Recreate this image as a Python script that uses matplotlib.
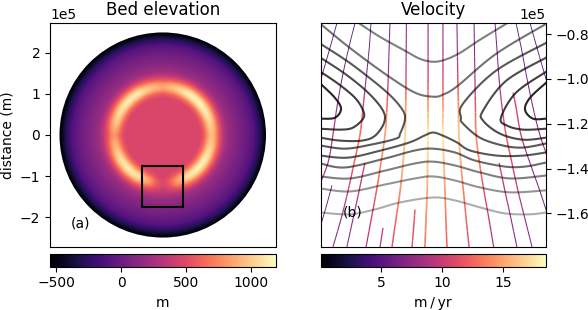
import numpy as np
import matplotlib
matplotlib.use("Agg")
import matplotlib.pyplot as plt
from matplotlib.collections import LineCollection
from matplotlib.patches import Circle, Rectangle

# Bed elevation: radial profile (1e5 m, m)
bed_radius = [0, 0.8, 1.4, 1.6, 1.8, 2.0, 2.2, 2.35, 2.45, 2.5]
bed_base = [470, 470, 320, 190, 90, 10, -100, -300, -470, -550]

# Ridge around the ice cap: crest height per direction (deg, m) and cross profile
ridge_angle = [0, 15, 30, 45, 60, 75, 90, 105, 120, 135, 150, 165, 180, 195, 210, 225,
               240, 255, 262, 270, 278, 285, 300, 315, 330, 345, 360]
ridge_crest = [950, 1050, 1150, 1180, 1150, 1000, 880, 980, 1130, 1150, 1100, 1000, 800, 950, 1100, 1150,
               1100, 800, 600, 480, 600, 800, 1100, 1170, 1150, 1050, 950]
ridge_radius = [0.8, 0.9, 1.0, 1.1, 1.17, 1.25, 1.35, 1.45, 1.55]
ridge_weight = [0, 0.05, 0.35, 0.85, 1, 0.85, 0.4, 0.1, 0]

# Zoom box, 1e5 m
box_x = [-0.5, 0.5]
box_y = [-1.75, -0.75]

# Velocity panel streamlines: x, y (1e5 m) and speed (m/yr) at each point
stream_lines = [
    ([-.427, -.462, -.498], [-.75, -.875, -1.0], [4.5, 5, 5.5]),
    ([-.347, -.378, -.405, -.427, -.445, -.467, -.516], [-.75, -.875, -1.0, -1.125, -1.25, -1.375, -1.5], [4.5, 5, 6.5, 8, 9.5, 8.5, 7.5]),
    ([-.276, -.285, -.298, -.311, -.325, -.351, -.378, -.409, -.445], [-.75, -.875, -1.0, -1.125, -1.25, -1.375, -1.5, -1.625, -1.75], [5, 5.5, 7, 11, 13, 12.5, 10, 8, 6]),
    ([-.192, -.196, -.200, -.205, -.214, -.232, -.252, -.275, -.298], [-.75, -.875, -1.0, -1.125, -1.25, -1.375, -1.5, -1.625, -1.75], [6.5, 7, 8.5, 13, 15, 14, 12, 10, 8.5]),
    ([-.119, -.120, -.121, -.122, -.125, -.134, -.147, -.165, -.183], [-.75, -.875, -1.0, -1.125, -1.25, -1.375, -1.5, -1.625, -1.75], [7, 8, 11, 15, 17, 15.5, 14, 12.5, 11]),
    ([-.023, -.023, -.023, -.023, -.023, -.025, -.027, -.032, -.037], [-.75, -.875, -1.0, -1.125, -1.25, -1.375, -1.5, -1.625, -1.75], [8, 9, 11, 15, 18, 16.5, 15, 14, 13]),
    ([.043, .043, .043, .043, .043, .047, .052, .056, .061], [-.75, -.875, -1.0, -1.125, -1.25, -1.375, -1.5, -1.625, -1.75], [7.5, 8.5, 11, 15, 18, 16, 14.5, 13, 12]),
    ([.105, .107, .109, .112, .114, .122, .134, .146, .159], [-.75, -.875, -1.0, -1.125, -1.25, -1.375, -1.5, -1.625, -1.75], [7, 8, 11, 14.5, 16.5, 15, 13.5, 12.5, 11]),
    ([.181, .183, .185, .187, .190, .205, .225, .247, .268], [-.75, -.875, -1.0, -1.125, -1.25, -1.375, -1.5, -1.625, -1.75], [6.5, 7, 8, 12, 14, 13.5, 11.5, 10, 8]),
    ([.274, .283, .292, .305, .323, .349, .376, .407, .438], [-.75, -.875, -1.0, -1.125, -1.25, -1.375, -1.5, -1.625, -1.75], [6, 6.5, 7.5, 10.5, 12, 11.5, 9, 7.5, 6]),
    ([.367, .393, .416, .442, .473, .517], [-.75, -.875, -1.0, -1.125, -1.25, -1.375], [5, 5.5, 6, 7, 8, 7.5]),
    ([.354, .367, .389, .429, .473, .513], [-1.061, -1.125, -1.25, -1.375, -1.5, -1.625], [9.5, 10.5, 10, 8, 6.5, 5.5]),
    ([.429, .464, .5, .535], [-.75, -.875, -1.0, -1.125], [4.5, 5, 5.5, 5.5]),
    ([.292, .318, .345, .371], [-1.375, -1.5, -1.625, -1.75], [11, 9.5, 8, 6.5]),
    ([-.303, -.329, -.356, -.383], [-1.375, -1.5, -1.625, -1.75], [11, 9.5, 8, 6.5]),
    ([-.449, -.472, -.498], [-1.475, -1.56, -1.65], [6, 5.5, 4.5]),
    ([-.223, -.236], [-1.665, -1.75], [10.5, 9]),
    ([-.081, -.087, -.094], [-1.583, -1.665, -1.75], [12, 11.5, 11]),
]

# Surface contours: x, y (1e5 m) and grey / alpha of each line
contour_lines = [
    ([-.325, -.236, -.125, -.059, -.001, .052, .119, .207, .323], [-.754, -.812, -.874, -.910, -.923, -.914, -.883, -.825, -.754], 0.5),
    ([-.5, -.365, -.201, -.081, -.001, .043, .109, .278, .5], [-.754, -.865, -.986, -1.061, -1.079, -1.070, -1.030, -.888, -.754], 0.55),
    ([-.5, -.365, -.214, -.143, -.125, -.147, -.165, -.276, -.391, -.5], [-.843, -.932, -1.052, -1.128, -1.177, -1.244, -1.266, -1.293, -1.311, -1.297], 0.65),
    ([.5, .278, .132, .123, .132, .207, .309, .398, .5], [-.839, -.963, -1.110, -1.173, -1.199, -1.262, -1.297, -1.306, -1.288], 0.65),
    ([-.5, -.391, -.289, -.223, -.218, -.258, -.316, -.414, -.5], [-.905, -.977, -1.061, -1.141, -1.195, -1.253, -1.275, -1.275, -1.262], 0.7),
    ([.5, .323, .221, .221, .296, .398, .5], [-.905, -1.008, -1.141, -1.186, -1.244, -1.271, -1.262], 0.7),
    ([-.5, -.422, -.347, -.311, -.311, -.356, -.409, -.5], [-.968, -1.021, -1.084, -1.141, -1.177, -1.217, -1.226, -1.222], 0.75),
    ([.5, .367, .300, .327, .398, .5], [-.968, -1.061, -1.173, -1.208, -1.226, -1.222], 0.75),
    ([-.5, -.436, -.409, -.436, -.5], [-1.021, -1.084, -1.133, -1.173, -1.177], 0.85),
    ([.5, .429, .407, .442, .5], [-1.017, -1.084, -1.137, -1.177, -1.177], 0.85),
    ([-.5, -.378, -.232, -.105, -.04, -.001, .043, .105, .163, .283, .398, .5], [-1.342, -1.351, -1.319, -1.283, -1.253, -1.239, -1.253, -1.283, -1.319, -1.342, -1.342, -1.328], 0.66),
    ([-.5, -.391, -.214, -.081, -.001, .096, .185, .318, .407, .5], [-1.377, -1.395, -1.355, -1.319, -1.311, -1.328, -1.364, -1.391, -1.391, -1.373], 0.58),
    ([-.5, -.369, -.214, -.081, -.001, .096, .207, .340, .5], [-1.435, -1.444, -1.409, -1.377, -1.369, -1.386, -1.417, -1.444, -1.431], 0.5),
    ([-.5, -.369, -.214, -.081, -.001, .096, .207, .340, .5], [-1.489, -1.502, -1.471, -1.444, -1.435, -1.453, -1.484, -1.506, -1.497], 0.42),
    ([-.5, -.369, -.258, -.147, -.001, .096, .207, .318, .429, .5], [-1.596, -1.604, -1.582, -1.551, -1.529, -1.542, -1.573, -1.600, -1.604, -1.596], 0.32),
]

SCALE = 1e5
W, H = 588, 310

fig = plt.figure(figsize=(W / 100, H / 100), dpi=100)


def px_axes(left, top, right, bottom):
    return fig.add_axes([left / W, 1 - bottom / H, (right - left) / W, (bottom - top) / H])


def smooth_path(xs, ys, extra=None, steps=10):
    """Catmull-Rom curve through the read points, so bends are not drawn as corners."""
    pts = np.column_stack([xs, ys])
    pad = np.vstack([pts[0], pts, pts[-1]])
    t = np.linspace(0, 1, steps, endpoint=False)[:, None]
    out = []
    for i in range(len(pts) - 1):
        p0, p1, p2, p3 = pad[i], pad[i + 1], pad[i + 2], pad[i + 3]
        out.append(0.5 * (2 * p1 + (p2 - p0) * t + (2 * p0 - 5 * p1 + 4 * p2 - p3) * t ** 2
                          + (3 * p1 - p0 - 3 * p2 + p3) * t ** 3))
    out.append(pts[-1:])
    curve = np.vstack(out)
    if extra is None:
        return curve
    along = np.linspace(0, len(pts) - 1, len(curve))
    return curve, np.interp(along, np.arange(len(pts)), extra)


ax_bed = px_axes(50, 23, 275.5, 247)
ax_vel = px_axes(320.5, 23, 546, 247)
cax_bed = px_axes(50, 254, 275.5, 266.5)
cax_vel = px_axes(320.5, 254, 546, 266.5)

# Panel (a)
grid = np.linspace(-2.73, 2.73, 451)
gx, gy = np.meshgrid(grid, grid)
gr = np.hypot(gx, gy)
gt = np.degrees(np.arctan2(gy, gx)) % 360
base = np.interp(gr, bed_radius, bed_base)
crest = np.interp(gt, ridge_angle, ridge_crest)
weight = np.interp(gr, ridge_radius, ridge_weight)
bed = base + weight * (crest - base)

img = ax_bed.imshow(bed, origin="lower", extent=[-2.73 * SCALE, 2.73 * SCALE, -2.73 * SCALE, 2.73 * SCALE],
                    cmap="magma", vmin=-550, vmax=1190, aspect="auto", interpolation="bilinear")
img.set_clip_path(Circle((0, 0), 2.5 * SCALE, transform=ax_bed.transData))
ax_bed.add_patch(Rectangle((box_x[0] * SCALE, box_y[0] * SCALE), (box_x[1] - box_x[0]) * SCALE,
                           (box_y[1] - box_y[0]) * SCALE, fill=False, edgecolor="k", lw=1.5))
ax_bed.set_xticks([])
ax_bed.set_yticks(np.array([-2, -1, 0, 1, 2]) * SCALE)
ax_bed.ticklabel_format(axis="y", style="sci", scilimits=(0, 0))
ax_bed.set_ylabel("distance (m)")
ax_bed.set_title("Bed elevation", fontsize=12, pad=6)
ax_bed.text(-2.22 * SCALE, -2.16 * SCALE, "(a)", ha="left", va="center")

# Panel (b)
speed_cmap = plt.get_cmap("magma")
speed_norm = plt.Normalize(0, 18.5)
for xs, ys, speeds in stream_lines:
    curve, speed = smooth_path(xs, ys, speeds, steps=5)
    pts = curve * SCALE
    segs = np.stack([pts[:-1], pts[1:]], axis=1)
    seg_speed = (speed[:-1] + speed[1:]) / 2
    lines = LineCollection(segs, colors=speed_cmap(speed_norm(seg_speed)),
                           linewidths=0.3 + 0.065 * seg_speed, capstyle="butt")
    lines.set_snap(False)
    ax_vel.add_collection(lines)

for xs, ys, alpha in contour_lines:
    curve = smooth_path(xs, ys) * SCALE
    ax_vel.plot(curve[:, 0], curve[:, 1], color="k", alpha=alpha, lw=1.5)

ax_vel.set_xlim(box_x[0] * SCALE, box_x[1] * SCALE)
ax_vel.set_ylim(box_y[0] * SCALE, box_y[1] * SCALE)
ax_vel.set_xticks([])
ax_vel.yaxis.tick_right()
ax_vel.set_yticks(np.array([-1.6, -1.4, -1.2, -1.0, -0.8]) * SCALE)
ax_vel.ticklabel_format(axis="y", style="sci", scilimits=(0, 0))
ax_vel.set_title("Velocity", fontsize=12, pad=6)
ax_vel.text(-0.40 * SCALE, -1.595 * SCALE, "(b)", ha="left", va="center")

cb_bed = fig.colorbar(img, cax=cax_bed, orientation="horizontal")
cb_bed.set_ticks([-500, 0, 500, 1000])
cb_bed.set_label("m")

sm = plt.cm.ScalarMappable(norm=speed_norm, cmap=speed_cmap)
cb_vel = fig.colorbar(sm, cax=cax_vel, orientation="horizontal")
cb_vel.set_ticks([5, 10, 15])
cb_vel.set_label("m\u2009/\u2009yr")

fig.savefig("out.png", dpi=100)
